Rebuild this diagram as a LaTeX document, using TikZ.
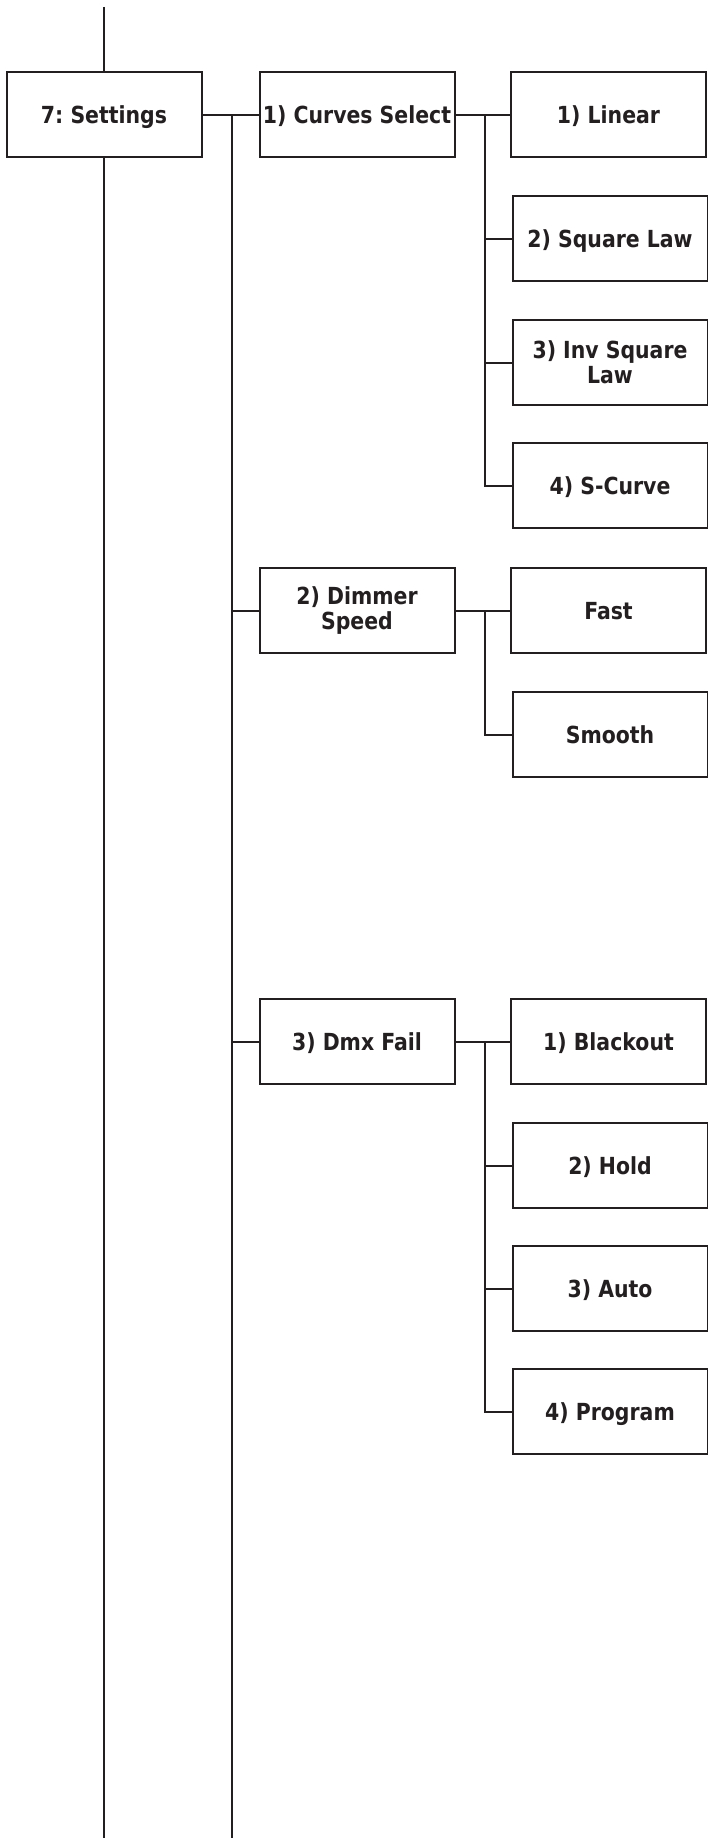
\documentclass[tikz,border=0pt]{standalone}
\usepackage{fontspec}
\setmainfont[FakeStretch=0.87]{DejaVu Sans}
\definecolor{ink}{HTML}{231F20}
\frenchspacing
\begin{document}
\begin{tikzpicture}[x=1pt,y=-1pt,
  menubox/.style={draw=ink,line width=2pt,minimum width=195pt,minimum height=85pt,
    inner sep=0pt,align=center,text=ink,font=\fontsize{23.5}{25}\selectfont\bfseries},
  onebox/.style={menubox,text height=17pt,text depth=0pt},
  link/.style={draw=ink,line width=2pt}]
\useasboundingbox (0,0) rectangle (708,1838);
% level 1
\node[onebox] (set) at (104,115) {7: Settings};
% level 2
\node[onebox] (cur) at (357,115) {1) Curves Select};
\node[menubox] (dim) at (357,610.5) {2) Dimmer\\Speed};
\node[onebox] (dmx) at (357,1041.5) {3) Dmx Fail};
% level 3
\node[onebox] (lin) at (608.5,115) {1) Linear};
\node[onebox] (sq)  at (610,238.5) {2) Square Law};
\node[menubox] (inv) at (610,362.5) {3) Inv Square\\Law};
\node[onebox] (sc)  at (610,485.5) {4) S-Curve};
\node[onebox] (fast) at (608.5,610.5) {Fast};
\node[onebox] (smo) at (610,734.5) {Smooth};
\node[onebox] (blk) at (608.5,1041.5) {1) Blackout};
\node[onebox] (hold) at (610,1165.5) {2) Hold};
\node[onebox] (auto) at (610,1288.5) {3) Auto};
\node[onebox] (prog) at (610,1411.5) {4) Program};
% free ends
\coordinate (top) at (104,7);
\coordinate (mainbot) at (104,1838);
\coordinate (v2) at (232,115);
\coordinate (v2bot) at (232,1838);
\coordinate (va) at (485,115);
\coordinate (vb) at (485,610.5);
\coordinate (vc) at (485,1041.5);
% main trunk
\draw[link] (top) -- (set.north);
\draw[link] (set.south) -- (mainbot);
% level 2 links
\draw[link] (set.east) -- (cur.west);
\draw[link] (v2) -- (v2bot);
\draw[link] (v2 |- dim.west) -- (dim.west);
\draw[link] (v2 |- dmx.west) -- (dmx.west);
% curves
\draw[link] (cur.east) -- (lin.west);
\draw[link] (va) |- (sc.west);
\draw[link] (va |- sq.west) -- (sq.west);
\draw[link] (va |- inv.west) -- (inv.west);
% dimmer speed
\draw[link] (dim.east) -- (fast.west);
\draw[link] (vb) |- (smo.west);
% dmx fail
\draw[link] (dmx.east) -- (blk.west);
\draw[link] (vc) |- (prog.west);
\draw[link] (vc |- hold.west) -- (hold.west);
\draw[link] (vc |- auto.west) -- (auto.west);
\end{tikzpicture}
\end{document}
